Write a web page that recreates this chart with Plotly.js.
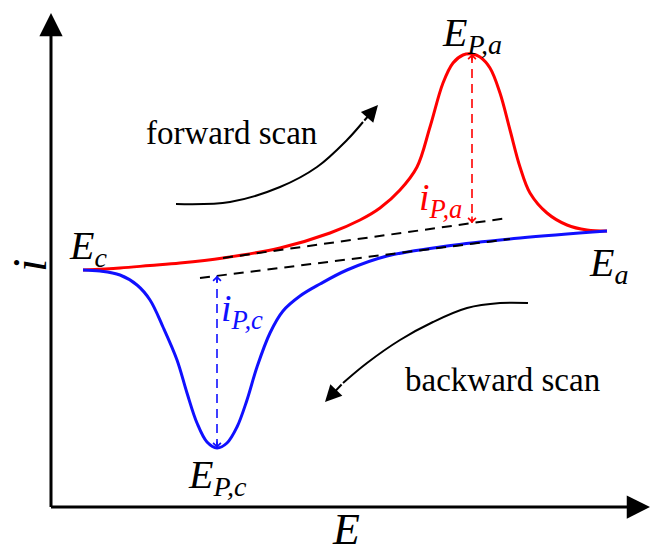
<!DOCTYPE html>
<html>
<head>
<meta charset="utf-8">
<script src="https://cdn.plot.ly/plotly-3.0.1.min.js"></script>
<style>
  html, body { margin: 0; padding: 0; background: #ffffff; }
  #cv { width: 651px; height: 549px; }
</style>
</head>
<body>
<div id="cv"></div>
<script>
// Schematic cyclic voltammogram: potential E (arbitrary units) vs current i.

// Forward (anodic) scan, from E_c to E_a
const forwardE = [0.33, 0.70, 1.00, 1.30, 1.73, 2.30, 2.80, 3.10, 3.30, 3.50, 3.67, 3.80, 3.93, 4.03, 4.13, 4.22, 4.30, 4.40, 4.50, 4.60, 4.70, 4.80, 4.97, 5.17, 5.37, 5.57];
const forwardI = [2.37, 2.39, 2.415, 2.44, 2.49, 2.59, 2.74, 2.87, 2.99, 3.17, 3.40, 3.80, 4.24, 4.44, 4.52, 4.53, 4.50, 4.39, 4.14, 3.77, 3.40, 3.14, 2.94, 2.82, 2.77, 2.76];

// Backward (cathodic) scan, listed from E_c to E_a
const backwardE = [0.33, 0.50, 0.70, 0.87, 1.00, 1.13, 1.27, 1.37, 1.47, 1.57, 1.67, 1.77, 1.87, 1.97, 2.07, 2.20, 2.33, 2.50, 2.70, 2.97, 3.37, 3.97, 4.70, 5.57];
const backwardI = [2.37, 2.36, 2.32, 2.22, 2.07, 1.80, 1.47, 1.14, 0.84, 0.65, 0.59, 0.64, 0.80, 1.07, 1.40, 1.74, 1.96, 2.11, 2.23, 2.37, 2.51, 2.61, 2.69, 2.76];

// Extrapolated capacitive baselines
const anodicBaseE = [1.73, 4.58];
const anodicBaseI = [2.49, 2.89];
const cathodicBaseE = [1.50, 4.60];
const cathodicBaseI = [2.29, 2.68];

// Peak positions
const anodicPeak = { E: 4.22, i: 4.53 };
const cathodicPeak = { E: 1.67, i: 0.59 };

// Scan-direction guide arrows
const fwdArrowE = [1.26, 1.80, 2.30, 2.67, 2.97, 3.13];
const fwdArrowI = [3.03, 3.05, 3.20, 3.40, 3.67, 3.85];
const fwdArrowTip = { E: 3.28, i: 4.02 };
const bwdArrowE = [4.78, 4.50, 4.17, 3.83, 3.50, 3.17, 2.93];
const bwdArrowI = [2.04, 2.04, 1.99, 1.85, 1.67, 1.44, 1.24];
const bwdArrowTip = { E: 2.75, i: 1.05 };

// Axis extents
const axisTopI = 4.94;
const axisEndE = 6.00;

function baselineAt(xs, ys, x) {
  return ys[0] + (x - xs[0]) * (ys[1] - ys[0]) / (xs[1] - xs[0]);
}
const anodicFoot = baselineAt(anodicBaseE, anodicBaseI, anodicPeak.E);
const cathodicFoot = baselineAt(cathodicBaseE, cathodicBaseI, cathodicPeak.E);

const RED = '#ff0000';
const BLUE = '#1010ff';
const SERIF = 'Liberation Serif';

const traces = [
  { x: forwardE, y: forwardI, mode: 'lines', line: { color: RED, width: 3, shape: 'spline', smoothing: 1 } },
  { x: backwardE, y: backwardI, mode: 'lines', line: { color: BLUE, width: 3, shape: 'spline', smoothing: 1 } },
  { x: anodicBaseE, y: anodicBaseI, mode: 'lines', line: { color: '#000000', width: 2, dash: '10px,7px' } },
  { x: cathodicBaseE, y: cathodicBaseI, mode: 'lines', line: { color: '#000000', width: 2, dash: '10px,7px' } },
  { x: [anodicPeak.E, anodicPeak.E], y: [anodicPeak.i, anodicFoot], mode: 'lines', line: { color: RED, width: 1.6, dash: '9px,6px' } },
  { x: [cathodicPeak.E, cathodicPeak.E], y: [cathodicPeak.i, cathodicFoot], mode: 'lines', line: { color: BLUE, width: 1.6, dash: '9px,6px' } },
  { x: fwdArrowE, y: fwdArrowI, mode: 'lines', line: { color: '#000000', width: 2, shape: 'spline' } },
  { x: bwdArrowE, y: bwdArrowI, mode: 'lines', line: { color: '#000000', width: 2, shape: 'spline' } }
];

function arrow(x, y, ax, ay, opts) {
  return Object.assign({
    x: x, y: y, ax: ax, ay: ay, xref: 'x', yref: 'y', axref: 'x', ayref: 'y',
    text: '', showarrow: true, arrowhead: 2, arrowsize: 1, arrowwidth: 2, arrowcolor: '#000000'
  }, opts || {});
}
function tick(x, y, dy, color) {
  // short chevron marking the end of a dashed peak-height line
  return { x: x, y: y, ax: 0, ay: dy, xref: 'x', yref: 'y', text: '', showarrow: true,
           arrowhead: 4, arrowsize: 1, arrowwidth: 1.5, arrowcolor: color };
}
function label(x, y, html, size, color, extra) {
  return Object.assign({
    x: x, y: y, xref: 'x', yref: 'y', text: html, showarrow: false,
    xanchor: 'left', yanchor: 'middle', font: { family: SERIF, size: size, color: color || '#000000' }
  }, extra || {});
}

const annotations = [
  // axes
  arrow(0.01, axisTopI, 0.01, -0.015, { arrowwidth: 3, arrowsize: 1.55 }),
  arrow(axisEndE, 0, -0.005, 0, { arrowwidth: 3, arrowsize: 1.55 }),
  // scan direction arrows
  arrow(fwdArrowTip.E, fwdArrowTip.i, fwdArrowE[fwdArrowE.length - 1], fwdArrowI[fwdArrowI.length - 1], { arrowsize: 1.65 }),
  arrow(bwdArrowTip.E, bwdArrowTip.i, bwdArrowE[bwdArrowE.length - 1], bwdArrowI[bwdArrowI.length - 1], { arrowsize: 1.65 }),
  // peak-height markers
  tick(anodicPeak.E, anodicFoot, -8, RED),
  tick(anodicPeak.E, anodicPeak.i, 8, RED),
  tick(cathodicPeak.E, cathodicFoot, 8, BLUE),
  tick(cathodicPeak.E, cathodicPeak.i, -8, BLUE),
  // text
  label(1.81, 3.74, 'forward scan', 33, '#000000', { xanchor: 'center' }),
  label(4.52, 1.27, 'backward scan', 33, '#000000', { xanchor: 'center' }),
  label(3.90, 4.72, '<i>E</i><sub><i>P,a</i></sub>', 40),
  label(0.17, 2.59, '<i>E</i><sub><i>c</i></sub>', 40),
  label(5.37, 2.42, '<i>E</i><sub><i>a</i></sub>', 40),
  label(1.36, 0.30, '<i>E</i><sub><i>P,c</i></sub>', 40),
  label(3.67, 3.07, '<i>i</i><sub><i>P,a</i></sub>', 38, RED),
  label(1.69, 1.96, '<i>i</i><sub><i>P,c</i></sub>', 38, BLUE),
  label(-0.21, 2.41, '<i>i</i>', 48, '#000000', { xanchor: 'center', textangle: -90 }),
  label(2.96, -0.22, '<i>E</i>', 44, '#000000', { xanchor: 'center' })
];

const layout = {
  width: 651, height: 549,
  margin: { l: 0, r: 0, t: 0, b: 0 },
  paper_bgcolor: '#ffffff', plot_bgcolor: '#ffffff',
  showlegend: false,
  xaxis: { range: [-0.5, 6.01], visible: false, fixedrange: true },
  yaxis: { range: [-0.42, 5.07], visible: false, fixedrange: true },
  annotations: annotations
};

Plotly.newPlot('cv', traces, layout, { staticPlot: true, displayModeBar: false });
</script>
</body>
</html>
